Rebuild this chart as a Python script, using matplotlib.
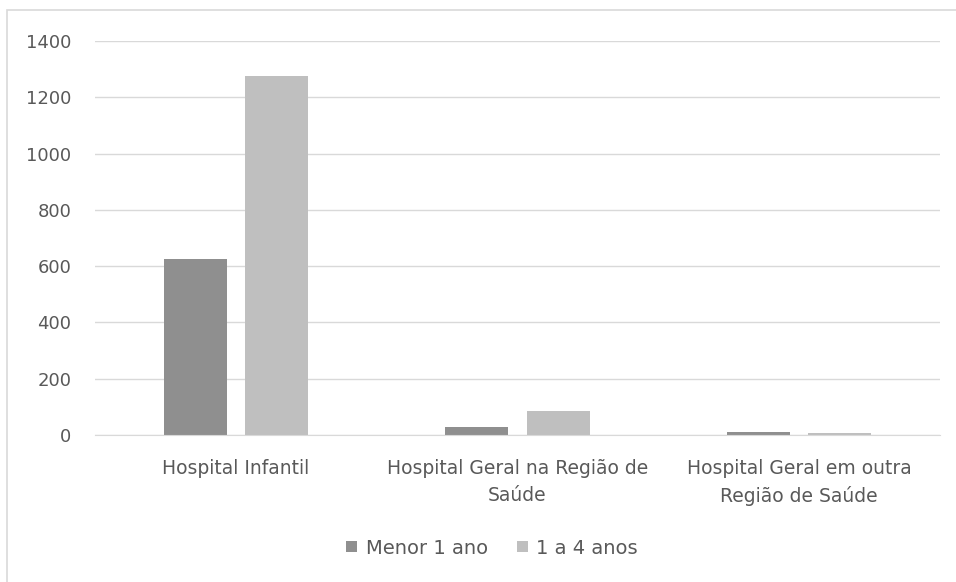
import numpy as np
import matplotlib
matplotlib.use("Agg")
import matplotlib.pyplot as plt
from matplotlib.patches import Rectangle

# dados do grafico
categorias = ['Hospital Infantil', 'Hospital Geral na Região de\nSaúde',
              'Hospital Geral em outra\nRegião de Saúde']
menor_1_ano = [625, 30, 9]
de_1_a_4_anos = [1275, 87, 8]
series = ['Menor 1 ano', '1 a 4 anos']

plt.rcParams['font.family'] = ['DejaVu Sans']
texto = '#595959'

fig = plt.figure(figsize=(9.56, 5.82), dpi=100)
fig.patches.append(Rectangle((7 / 956, -0.1), 1.2, 1 - 10 / 582 + 0.1,
                             transform=fig.transFigure, fill=False,
                             edgecolor='#d9d9d9', linewidth=1.2))

ax = fig.add_axes([95 / 956, 1 - 435 / 582, 845 / 956, 394 / 582])

x = np.arange(len(categorias))
largura = 0.224
desloc = 0.144
ax.bar(x - desloc, menor_1_ano, largura, color='#8f8f8f', label=series[0], zorder=3)
ax.bar(x + desloc, de_1_a_4_anos, largura, color='#bfbfbf', label=series[1], zorder=3)

ax.set_xlim(-0.5, 2.5)
ax.set_ylim(0, 1400)
ax.set_yticks(range(0, 1401, 200))
ax.grid(axis='y', color='#d9d9d9', linewidth=1, zorder=0)
ax.set_xticks(x)
ax.set_xticklabels(categorias, color=texto, fontsize=13.5, linespacing=1.55)
ax.tick_params(axis='y', colors=texto, labelsize=13, length=0, pad=17)
ax.tick_params(axis='x', length=0, pad=17)
for lado in ['top', 'right', 'left']:
    ax.spines[lado].set_visible(False)
ax.spines['bottom'].set_color('#d9d9d9')
ax.spines['bottom'].set_zorder(4)

leg = fig.legend(loc='center', bbox_to_anchor=(492 / 956, 1 - 548 / 582), ncol=2,
                 frameon=False, fontsize=14, handlelength=0.55, handleheight=0.55,
                 handletextpad=0.45, columnspacing=1.5)
for t in leg.get_texts():
    t.set_color(texto)

fig.savefig('out.png', dpi=100)
